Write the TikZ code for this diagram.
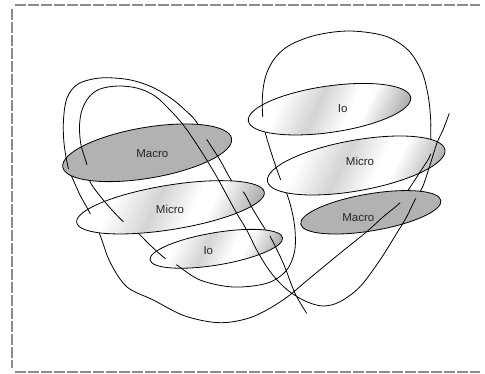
\documentclass[tikz,border=0pt]{standalone}
\usepackage{fontspec}
\setmainfont{Liberation Sans}
\pgfdeclarehorizontalshading{metal}{100bp}{color(0bp)=(white); color(25bp)=(white); color(31bp)=(white); color(45bp)=(black!17); color(57bp)=(white); color(62bp)=(white); color(75bp)=(black!30); color(100bp)=(black!30)}
\begin{document}
\begin{tikzpicture}[x=1pt,y=-1pt,
  curve/.style={draw=black, line width=0.8pt},
  ringline/.style={draw=black, line width=0.8pt},
  macrofill/.style={fill=black!30},
  shinefill/.style={shading=metal, shading angle=-25},
  lbl/.style={font=\fontsize{11.5}{13}\selectfont, text=black!85, inner sep=0pt},
  frame/.style={draw=black!45, line width=2pt, dash pattern=on 11pt off 2pt},
  rML/.style={rotate around={9.6:(147.2,152.8)}},
  rMiL/.style={rotate around={9.2:(170.5,207.3)}},
  rIoL/.style={rotate around={9.5:(216.3,248.8)}},
  rIoR/.style={rotate around={8.2:(329.5,109.2)}},
  rMiR/.style={rotate around={10.1:(356.2,165.5)}},
  rMaR/.style={rotate around={9.55:(370.8,212.3)}}]
\useasboundingbox (0,0) rectangle (485,374);
\def\ringML{(147.2,152.8) ellipse [x radius=85.6, y radius=25.4]}
\def\ringMiL{(170.5,207.3) ellipse [x radius=95, y radius=22.2]}
\def\ringIoL{(216.3,248.8) ellipse [x radius=67.2, y radius=16.2]}
\def\ringIoR{(329.5,109.2) ellipse [x radius=82, y radius=23.2]}
\def\ringMiR{(356.2,165.5) ellipse [x radius=90.1, y radius=25.3]}
\def\ringMaR{(370.8,212.3) ellipse [x radius=71.1, y radius=18.5]}
\def\longcurve{plot[smooth, tension=0.55] coordinates {
(449.3,113.3) (443,130) (437,143) (430,165) (422.7,186.7) (415.7,198.3)
(406.7,216.7) (396.7,233.3) (380,260) (360,286.7) (340,301.7) (323.3,306)
(306.7,301.7) (290,292) (277,280) (266.7,266.7) (256.7,250) (246.7,230)
(236.7,213.3) (226.7,195) (216.7,176.7) (206.7,160) (195,141.7) (183.3,125)
(170,110) (155,96) (138,88.3) (118,86) (100,89) (89,97) (82,110) (79.5,126)
(81,145) (87,165) (90,181.7) (105,202) (123.3,221.7) (136.7,231.7) (150,245)
(165,258.3) (176.7,265) (200,280) (233,287) (266.7,283.3) (286,271)
(294.5,252) (295,230) (291.7,210) (286.7,193.3) (280.7,180) (272,155)
(265,131.7) (262.7,116.7) (262.5,95) (266,75) (275,58) (290,45) (316.7,35)
(350,31) (385,36) (408,50) (422,72) (428.3,96.7) (430.7,120) (430.7,136)
(430.7,154) (420,172) (408.3,190) (400,202.7) (383.3,216.7) (366.7,231.7)
(340,253.3) (310,278) (283,300) (252,317) (220,322.7) (185,316) (153.3,300)
(126.7,286.7) (110,262) (100,235) (90,213.3) (80,195) (73.3,180) (68.3,168.3)
(64,143) (63.5,120) (67,98) (78,84) (100,78) (128,79.5) (152,87) (172,99)
(185,110) (195,120) (206.7,139.3) (220,160) (231.7,180.7) (243.3,191.7)
(253.3,210) (266.7,231.7) (270,236) (283.3,263.3) (295,293.3) (306.7,313.3)}}
% frame
\coordinate (ftl) at (15,5);
\coordinate (ftr) at (480,5);
\coordinate (flt) at (12,9);
\coordinate (flb) at (12,368);
\coordinate (fbl) at (15,371.5);
\coordinate (fbr) at (480,371.5);
\draw[frame] (ftl) -- (ftr);
\draw[frame] (flt) -- (flb);
\draw[frame] (fbl) -- (fbr);
% the whole thread, lying behind everything
\draw[curve] \longcurve;
% the rings
\path[rML, macrofill, ringline] \ringML;
\path[rMiL, shinefill, ringline] \ringMiL;
\path[rIoL, shinefill, ringline] \ringIoL;
\path[rIoR, shinefill, ringline] \ringIoR;
\path[rMiR, shinefill, ringline] \ringMiR;
\path[rMaR, macrofill, ringline] \ringMaR;
% labels
\node[lbl] (tML)  at (152.3,153.3) {Macro};
\node[lbl] (tMiL) at (170,209) {Micro};
\node[lbl] (tIoL) at (208.3,250.7) {Io};
\node[lbl] (tIoR) at (342.7,109) {Io};
\node[lbl] (tMiR) at (360,161) {Micro};
\node[lbl] (tMaR) at (358.3,217.3) {Macro};
% thread pieces lying in front of the rings
\begin{scope}\clip[rML] \ringML; \clip (74,60) rectangle (100,165); \draw[curve] \longcurve; \end{scope}
\begin{scope}\clip[rML] \ringML; \clip (50,60) rectangle (75,168.3); \draw[curve] \longcurve; \end{scope}
\begin{scope}\clip[rML] \ringML; \clip (150,100) -- (176,100) -- (183,115) -- (194,130) -- (200,139.3) -- (260,139.3) -- (260,200) -- (150,200) -- cycle; \draw[curve] \longcurve; \end{scope}
\begin{scope}\clip[rMiL] \ringMiL; \clip (55,150) rectangle (98,213.3); \draw[curve] \longcurve; \end{scope}
\begin{scope}\clip[rMiL] \ringMiL; \clip (98,150) rectangle (150,221.7); \draw[curve] \longcurve; \end{scope}
\begin{scope}\clip[rMiL] \ringMiL; \clip (180,150) -- (218,150) -- (226,182) -- (236,191.7) -- (300,191.7) -- (300,270) -- (180,270) -- cycle; \draw[curve] \longcurve; \end{scope}
\begin{scope}\clip[rIoL] \ringIoL; \clip (120,220) -- (195,229) -- (151.4,272.9) -- (120,272.9) -- cycle; \draw[curve] \longcurve; \end{scope}
\begin{scope}\clip[rIoL] \ringIoL; \clip (186,248) -- (240,278) -- (200,300) -- (166,282) -- cycle; \draw[curve] \longcurve; \end{scope}
\begin{scope}\clip[rIoL] \ringIoL; \clip (200,215) -- (255,215) -- (262,230) -- (264,236) -- (300,236) -- (300,300) -- (200,300) -- cycle; \draw[curve] \longcurve; \end{scope}
\begin{scope}\clip[rIoR] \ringIoR; \clip (240,50) rectangle (285,116.7); \draw[curve] \longcurve; \end{scope}
\begin{scope}\clip[rMiR] \ringMiR; \clip (250,110) rectangle (300,180); \draw[curve] \longcurve; \end{scope}
\begin{scope}\clip[rMiR] \ringMiR; \clip (433,100) -- (500,100) -- (500,260) -- (380,260) -- (380,154) -- (433,154) -- cycle; \draw[curve] \longcurve; \end{scope}
\begin{scope}\clip[rMaR] \ringMaR; \clip (500,198.3) -- (410,198.3) -- (405,202.7) -- (290,202.7) -- (290,260) -- (500,260) -- cycle; \draw[curve] \longcurve; \end{scope}
\end{tikzpicture}
\end{document}
